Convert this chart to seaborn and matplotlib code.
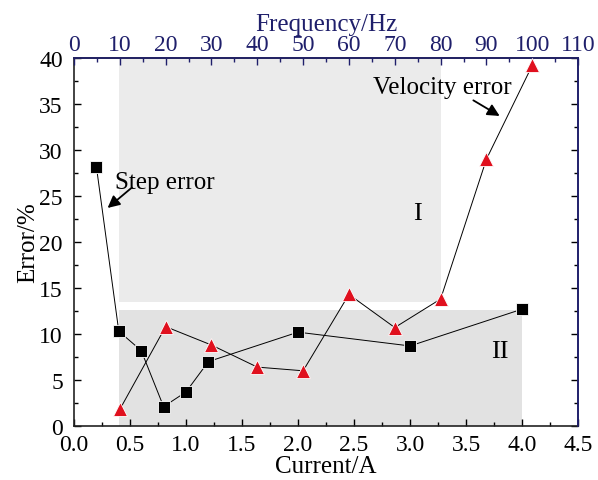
import numpy as np
import pandas as pd
import matplotlib
matplotlib.use("Agg")
import matplotlib.pyplot as plt
import seaborn as sns
from matplotlib.ticker import MultipleLocator

# ── Data ─────────────────────────────────────────────────────────────────────
current = [0.2, 0.4, 0.6, 0.8, 1.0, 1.2, 2.0, 3.0, 4.0]
step_err = [28.2, 10.3, 8.2, 2.1, 3.7, 7.0, 10.2, 8.7, 12.7]

freq = [10, 20, 30, 40, 50, 60, 70, 80, 90, 100]
vel_err = [1.8, 10.8, 8.8, 6.4, 6.0, 14.3, 10.7, 13.8, 29.0, 39.2]

# shaded zones (x in current units, region I right edge given in Hz)
zone1_x = [0.4, 80]     # current start, frequency end
zone1_y = [13.5, 40]
zone2_x = [0.4, 4.0]
zone2_y = [0, 12.6]

NAVY = "#1f1f6b"
RED = "#e0101e"

sns.set_theme(style="ticks", rc={"text.color": "black",
                                 "axes.labelcolor": "black",
                                 "xtick.color": "black",
                                 "ytick.color": "black"})
plt.rcParams["font.family"] = ["Liberation Serif", "DejaVu Serif"]

fig = plt.figure(figsize=(5.98, 4.81), dpi=100)
ax = fig.add_axes([0.1237, 0.1123, 0.843, 0.765])

# ── Shaded regions ───────────────────────────────────────────────────────────
x1_end = zone1_x[1] * 4.5 / 110
ax.fill_between([zone1_x[0], x1_end], zone1_y[0], zone1_y[1],
                color="#ebebeb", lw=0, zorder=0)
ax.fill_between(zone2_x, zone2_y[0], zone2_y[1],
                color="#e2e2e2", lw=0, zorder=0)

# ── Step error vs current ────────────────────────────────────────────────────
df_step = pd.DataFrame({"Current": current, "Error": step_err})
sns.lineplot(data=df_step, x="Current", y="Error", ax=ax, color="black",
             lw=0.7, marker="s", markersize=8.5, markeredgecolor="white",
             markeredgewidth=0.6, zorder=3)

ax.set_xlim(0, 4.5)
ax.set_ylim(0, 40)
ax.xaxis.set_major_locator(MultipleLocator(0.5))
ax.xaxis.set_minor_locator(MultipleLocator(0.25))
ax.yaxis.set_major_locator(MultipleLocator(5))
ax.yaxis.set_minor_locator(MultipleLocator(2.5))
ax.xaxis.set_major_formatter(plt.FormatStrFormatter("%.1f"))
ax.tick_params(which="both", direction="in", labelsize=17, right=True)
ax.tick_params(axis="x", pad=6)
ax.tick_params(axis="y", pad=8)
ax.tick_params(which="major", length=5, width=1)
ax.tick_params(which="minor", length=3, width=1)
ax.set_xlabel("Current/A", fontsize=18, labelpad=0)
ax.set_ylabel("Error/%", fontsize=18, labelpad=0)
for s in ["left", "bottom"]:
    ax.spines[s].set_color("#222222")
    ax.spines[s].set_linewidth(1.2)
ax.spines["right"].set_color(NAVY)
ax.spines["right"].set_linewidth(1.2)
# right-side ticks in navy
for tk in ax.yaxis.get_major_ticks() + ax.yaxis.get_minor_ticks():
    tk.tick2line.set_color(NAVY)

# ── Velocity error vs frequency (top axis) ───────────────────────────────────
ax2 = ax.twiny()
df_vel = pd.DataFrame({"Frequency": freq, "Error": vel_err})
sns.lineplot(data=df_vel, x="Frequency", y="Error", ax=ax2, color="black",
             lw=0.7, marker="^", markersize=10.5, markerfacecolor=RED,
             markeredgecolor="white", markeredgewidth=0.6, zorder=3)
ax2.set_xlim(0, 110)
ax2.set_ylim(0, 40)
ax2.xaxis.set_major_locator(MultipleLocator(10))
ax2.xaxis.set_minor_locator(MultipleLocator(5))
ax2.tick_params(which="both", direction="in", labelsize=17, colors=NAVY,
                pad=2)
ax2.tick_params(which="major", length=5, width=1)
ax2.tick_params(which="minor", length=3, width=1)
ax2.set_xlabel("Frequency/Hz", fontsize=18, color=NAVY, labelpad=3)
ax2.set_ylabel("")
ax2.spines["top"].set_color(NAVY)
ax2.spines["top"].set_linewidth(1.2)
ax2.spines["right"].set_color(NAVY)
ax2.spines["right"].set_linewidth(1.2)
for s in ["left", "bottom"]:
    ax2.spines[s].set_visible(False)

# ── Annotations ──────────────────────────────────────────────────────────────
arrow = dict(arrowstyle="-|>", color="black", lw=1.3, mutation_scale=18,
             shrinkA=0, shrinkB=0)
ax.text(0.37, 26.5, "Step error", fontsize=18, ha="left", va="center")
ax.annotate("", xy=(0.30, 23.7), xytext=(0.515, 25.9), arrowprops=arrow)
ax.text(2.67, 36.85, "Velocity error", fontsize=18, ha="left", va="center")
ax.annotate("", xy=(3.80, 33.7), xytext=(3.565, 35.4), arrowprops=arrow)
ax.text(3.07, 23.1, "I", fontsize=19, ha="center", va="center")
ax.text(3.8, 8.1, "II", fontsize=19, ha="center", va="center")

plt.savefig("out.png", dpi=100)
plt.close()
